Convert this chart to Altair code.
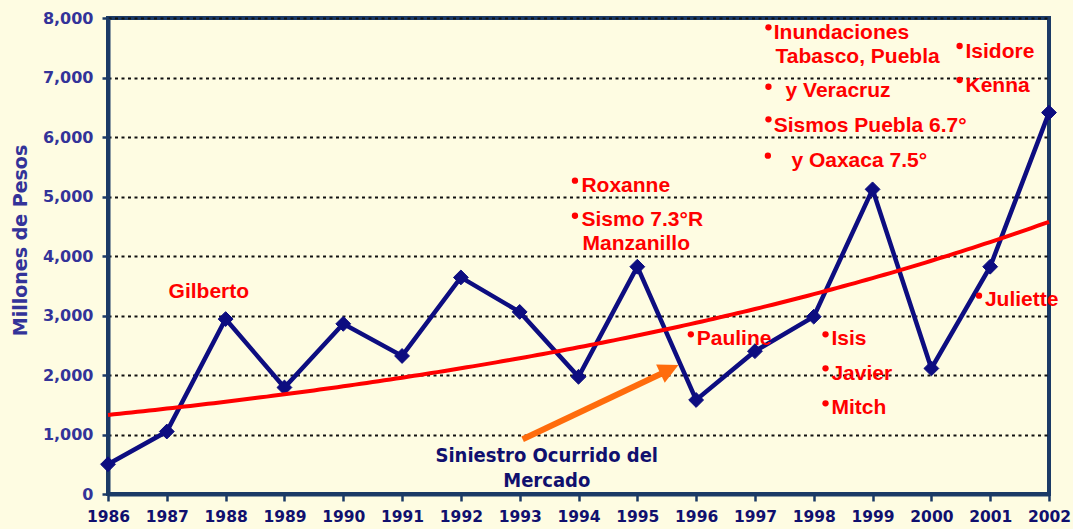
import altair as alt
import numpy as np
import pandas as pd

# Annual claims incurred by the market (millions of pesos)
years = list(range(1986, 2003))
siniestro = [500, 1050, 2940, 1790, 2860, 2320, 3640, 3060, 1970,
             3820, 1580, 2400, 2980, 5120, 2110, 3820, 6410]

# Catastrophic events: label text, x position (year) and baseline value
event_text = ["Gilberto", "Roxanne", "Sismo 7.3°R", "Manzanillo", "Pauline",
              "Inundaciones", "Tabasco, Puebla", "y Veracruz",
              "Sismos Puebla 6.7°", "y Oaxaca 7.5°", "Isis", "Javier", "Mitch",
              "Isidore", "Kenna", "Juliette"]
event_x = [1987.03, 1994.05, 1994.05, 1994.07, 1996.01,
           1997.32, 1997.35, 1997.52,
           1997.32, 1997.62, 1998.30, 1998.30, 1998.30,
           2000.58, 2000.58, 2000.91]
event_y = [3300, 5080, 4500, 4100, 2500,
           7640, 7250, 6680,
           6090, 5500, 2500, 1920, 1345,
           7320, 6760, 3160]

# Bullet marks in front of the event labels
bullet_x = [1993.94, 1993.94, 1995.91, 1997.23, 1997.23, 1997.23, 1997.22,
            1998.20, 1998.20, 1998.20, 2000.48, 2000.48, 2000.81]
bullet_y = [5266, 4677, 2684, 7843, 6845, 6297, 5686,
            2684, 2112, 1524, 7529, 6958, 3333]

# Series caption and its pointer arrow
caption_lines = ["Siniestro Ocurrido del", "Mercado"]
caption_x = [1993.46, 1993.46]
caption_y = [545, 123]
arrow_from = (1993.05, 919)
arrow_to = (1995.70, 2168)
arrow_shaft_end = (1995.45, 2042)

NAVY = "#0D0D80"
FRAME = "#1B3A66"
RED = "#FF0000"
ORANGE = "#FF6C0C"

# Exponential trend fitted on the log of the series
coef = np.polyfit(np.array(years) - years[0], np.log(siniestro), 1)
trend_years = np.linspace(years[0], years[-1], 161)
trend_vals = np.exp(np.polyval(coef, trend_years - years[0]))

series = pd.DataFrame({"year": years, "valor": siniestro})
trend = pd.DataFrame({"year": trend_years, "valor": trend_vals})
events = pd.DataFrame({"year": event_x, "valor": event_y, "label": event_text})
bullets = pd.DataFrame({"year": bullet_x, "valor": bullet_y})
caption = pd.DataFrame({"year": caption_x, "valor": caption_y, "label": caption_lines})
shaft = pd.DataFrame({"year": [arrow_from[0]], "valor": [arrow_from[1]],
                      "year2": [arrow_shaft_end[0]], "valor2": [arrow_shaft_end[1]]})
head = pd.DataFrame({"year": [arrow_to[0]], "valor": [arrow_to[1]]})

x_scale = alt.Scale(domain=[1986, 2002], nice=False, zero=False)
y_scale = alt.Scale(domain=[0, 8000], nice=False)

x_enc = alt.X("year:Q", scale=x_scale, axis=alt.Axis(
    values=years, format="d", title=None, grid=False,
    labelFont="DejaVu Sans", labelFontWeight="bold", labelFontSize=15.5,
    labelColor="#10106E", labelPadding=8, labelFlush=False,
    tickColor=FRAME, tickWidth=2.5, tickSize=7,
    domainColor=FRAME, domainWidth=4))
y_enc = alt.Y("valor:Q", scale=y_scale, axis=alt.Axis(
    values=list(range(0, 8001, 1000)), format=",d",
    title="Millones de Pesos", titleFont="DejaVu Sans", titleFontWeight="bold",
    titleFontSize=19, titleColor="#333399", titleAngle=270,
    titleX=-88, titleY=222, titleAlign="center", titleBaseline="middle",
    labelFont="DejaVu Sans", labelFontWeight="bold", labelFontSize=16,
    labelColor="#333399", labelPadding=9, labelFlush=False,
    grid=True, gridColor="#111111", gridDash=[3, 3.5], gridWidth=2,
    tickColor=FRAME, tickWidth=2.5, tickSize=6,
    domainColor=FRAME, domainWidth=4))

line = alt.Chart(series).mark_line(color=NAVY, strokeWidth=4.5).encode(x=x_enc, y=y_enc)
points = alt.Chart(series).mark_point(
    shape="diamond", filled=True, size=220, color=NAVY, opacity=1,
    stroke=NAVY, strokeWidth=1).encode(x="year:Q", y="valor:Q")
trend_line = alt.Chart(trend).mark_line(color=RED, strokeWidth=4).encode(
    x="year:Q", y="valor:Q")

arrow_shaft = alt.Chart(shaft).mark_rule(color=ORANGE, strokeWidth=6, strokeCap="butt").encode(
    x="year:Q", y="valor:Q", x2="year2:Q", y2="valor2:Q")
arrow_head = alt.Chart(head).mark_point(
    shape="M0,0L-2,-1L-2,1Z", angle=334.5, filled=True, size=400,
    color=ORANGE, opacity=1).encode(x="year:Q", y="valor:Q")

event_labels = alt.Chart(events).mark_text(
    align="left", baseline="alphabetic", font="Liberation Sans",
    fontWeight="bold", fontSize=21, color=RED).encode(
    x="year:Q", y="valor:Q", text="label:N")
event_bullets = alt.Chart(bullets).mark_point(
    shape="circle", filled=True, size=40, color=RED, opacity=1).encode(
    x="year:Q", y="valor:Q")

caption_text = alt.Chart(caption).mark_text(
    align="center", baseline="alphabetic", font="DejaVu Sans Condensed",
    fontWeight="bold", fontSize=20, color="#10106E").encode(
    x="year:Q", y="valor:Q", text="label:N")

chart = alt.layer(
    line, points, trend_line, arrow_shaft, arrow_head,
    event_bullets, event_labels, caption_text
).properties(
    width=941, height=476,
    autosize=alt.AutoSizeParams(type="none"),
    padding={"left": 108, "top": 18, "right": 24, "bottom": 35},
    background="#FEFCE2",
).configure_view(
    stroke=FRAME, strokeWidth=4, fill=None
)

chart.save("out.html", embed_options={"renderer": "svg", "actions": False})
